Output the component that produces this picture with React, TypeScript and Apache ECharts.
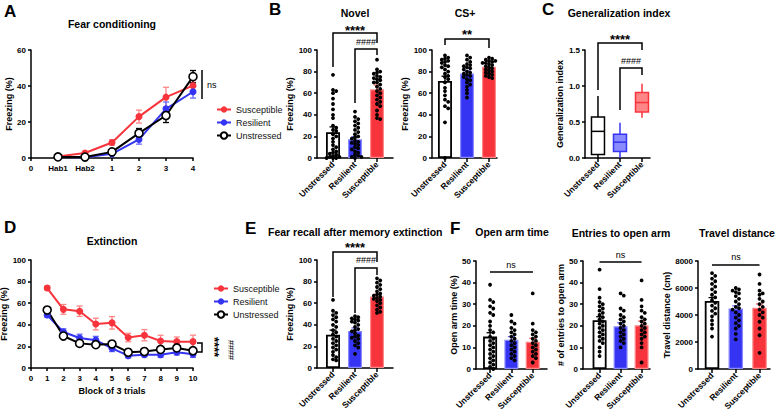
import React, { useEffect, useRef } from 'react';
import * as echarts from 'echarts';

const FONT = '"Liberation Sans", Arial, Helvetica, sans-serif';
const RED = '#f7343c';
const BLUE = '#3434f2';
const RED_LIGHT = '#ff8686';
const BLUE_LIGHT = '#8a8aff';

const groups = ['Unstressed', 'Resilient', 'Susceptible'];
const seriesNames = ['Susceptible', 'Resilient', 'Unstressed'];

// ---- A: Fear conditioning ----
const fcTickLabels = ['0', 'Hab1', 'Hab2', '1', '2', '3', '4'];
const fcSessions = [1, 2, 3, 4, 5, 6];
const fcSus = [0.8, 2.8, 8.6, 23, 33.8, 40.2];
const fcSusSem = [0.4, 0.8, 1.5, 3.6, 5.5, 2.8];
const fcRes = [0.5, 0.4, 2.3, 10.3, 27.3, 36.8];
const fcResSem = [0.3, 0.3, 0.8, 2.6, 3.8, 3.5];
const fcUns = [0.6, 0.5, 3.4, 13.8, 23.6, 45.2];
const fcUnsSem = [0.3, 0.3, 0.9, 2.6, 3.9, 3.4];

// ---- D: Extinction ----
const extBlocks = [1, 2, 3, 4, 5, 6, 7, 8, 9, 10];
const extSus = [74, 54.3, 52.6, 40.7, 41.8, 28.2, 30.4, 25, 24.4, 24.4];
const extSusSem = [2, 4.5, 4.8, 5.4, 5.8, 3.9, 5.2, 5.3, 4.3, 6];
const extRes = [49, 33.3, 27.8, 25.8, 18.2, 11.4, 12.3, 12.3, 14.6, 12.8];
const extResSem = [2, 3, 3.5, 3.5, 3, 2, 2, 2.5, 2.5, 3];
const extUns = [53.7, 29.6, 22.8, 21.6, 22.2, 14.6, 15.3, 17.2, 18.6, 16];
const extUnsSem = [2.5, 2, 2, 2.5, 2, 1.5, 1.5, 2, 2, 2];

// ---- B: Novel ----
const novelMean = [23.8, 17.3, 63.6];
const novelSem = [5, 2.5, 4];
const novelUns = [77, 63, 62, 60, 55, 50, 45, 40, 37, 30, 28, 26, 25, 22, 20, 18, 15, 12, 10, 8, 5, 3, 1, 0, 0, 2, 4, 6, 0, 1];
const novelRes = [43, 38, 36, 34, 32, 30, 28, 26, 24, 22, 20, 19, 18, 16, 15, 14, 13, 12, 10, 9, 8, 6, 5, 3, 2, 1, 0, 1];
const novelSus = [91, 82, 80, 78, 76, 74, 72, 70, 68, 66, 64, 62, 60, 58, 56, 54, 52, 50, 48, 44, 40, 37, 36, 79, 73, 70, 75];

// ---- B: CS+ ----
const csMean = [71.4, 78.3, 84.5];
const csSem = [4.3, 2.4, 5];
const csUns = [95, 93, 91, 90, 88, 86, 84, 82, 80, 78, 76, 75, 73, 70, 65, 62, 58, 54, 52, 48, 46, 33, 0, 92, 89, 85];
const csRes = [95, 93, 91, 89, 87, 85, 84, 82, 80, 79, 78, 77, 76, 75, 73, 72, 70, 68, 66, 63, 60, 56, 86, 83];
const csSus = [93, 92, 91, 90, 89, 88, 87, 86, 85, 84, 83, 82, 81, 80, 79, 78, 77, 76, 75, 74, 90, 88];

// ---- C: Generalization index [min, Q1, median, Q3, max] ----
const giUns = [0.0, 0.05, 0.37, 0.57, 0.86];
const giRes = [0.0, 0.09, 0.22, 0.33, 0.49];
const giSus = [0.56, 0.64, 0.77, 0.91, 1.03];

// ---- E: Fear recall after extinction ----
const recallMean = [30.8, 34.3, 66.1];
const recallSem = [4.3, 2.8, 2.2];
const recallUns = [63, 53, 51, 49, 47, 45, 43, 40, 38, 35, 33, 31, 29, 27, 25, 23, 21, 19, 17, 15, 12, 10, 8, 7];
const recallRes = [48, 47, 46, 45, 44, 43, 42, 40, 38, 36, 35, 34, 32, 30, 29, 28, 27, 25, 23, 21, 19, 13];
const recallSus = [83, 81, 79, 77, 75, 73, 71, 69, 68, 67, 66, 65, 64, 63, 62, 60, 58, 56, 54, 52, 51];

// ---- F: Elevated plus maze ----
const oatMean = [15, 13.5, 12.6];
const oatSem = [1.8, 1.5, 1.6];
const oatUns = [39, 32, 31, 29, 28, 26, 25, 22, 20, 18, 17, 15, 14, 13, 12, 11, 10, 9, 8, 7, 6, 5, 4, 3, 2, 1, 0];
const oatRes = [25, 22, 21, 19, 18, 17, 16, 15, 14, 13, 12, 11, 10, 9, 8, 7, 6, 5, 4];
const oatSus = [35, 21, 18, 17, 16, 15, 14, 13, 12, 11, 10, 9, 8, 7, 6, 5, 3];

const entMean = [22.6, 19.8, 20.2];
const entSem = [1.6, 1.6, 2];
const entUns = [46, 37, 33, 31, 30, 29, 28, 27, 26, 25, 24, 23, 22, 21, 20, 19, 18, 17, 16, 15, 14, 13, 12, 10, 8, 6];
const entRes = [35, 34, 28, 27, 25, 24, 23, 22, 21, 20, 19, 18, 17, 16, 15, 14, 13, 12, 10];
const entSus = [41, 32, 29, 27, 26, 24, 23, 22, 21, 20, 19, 18, 17, 16, 15, 14, 12, 10, 3];

const travMean = [5040, 4480, 4540];
const travSem = [250, 200, 280];
const travUns = [7100, 6900, 6700, 6500, 6300, 6100, 5900, 5700, 5500, 5300, 5100, 4900, 4700, 4500, 4300, 4100, 3900, 3600, 3300, 3000, 2400];
const travRes = [6000, 5900, 5800, 5700, 5600, 5400, 5200, 5000, 4800, 4600, 4500, 4400, 4200, 4000, 3800, 3600, 3400, 3200, 3000, 2600, 2200];
const travSus = [7000, 6300, 5800, 5600, 5500, 5200, 5000, 4800, 4600, 4400, 4200, 4000, 3800, 3500, 3000, 2500, 1200];

// ---------- helpers ----------
const barFill = ['#ffffff', BLUE, RED];
const barBorder = ['#000000', BLUE_LIGHT, RED_LIGHT];
const errColor = ['#000000', '#6a6aff', '#ff6a6a'];

function swarm(values: number[], pxPerY: number, pxPerX: number, d = 3.2) {
  const placed: [number, number][] = [];
  const out: [number, number][] = [];
  const sorted = [...values].sort((a, b) => b - a);
  for (const v of sorted) {
    const py = v * pxPerY;
    let chosen = 0;
    let best = -1;
    for (let k = 0; k < 5; k++) {
      const cand = k === 0 ? 0 : (k % 2 === 1 ? 1 : -1) * Math.ceil(k / 2) * d;
      let minD = Infinity;
      for (const [px, qy] of placed) minD = Math.min(minD, Math.hypot(px - cand, qy - py));
      if (minD >= d * 0.9) { chosen = cand; best = minD; break; }
      if (minD > best) { best = minD; chosen = cand; }
    }
    placed.push([chosen, py]);
    out.push([chosen / pxPerX, v]);
  }
  return out;
}

function errSeries(gi: number, data: number[][], colors: string[], cap: number, both: boolean, z: number) {
  return {
    type: 'custom', xAxisIndex: gi, yAxisIndex: gi, z, silent: true, data,
    renderItem: (_p: any, api: any) => {
      const x = api.value(0), lo = api.value(1), hi = api.value(2), ci = api.value(3);
      const c = colors[ci];
      const a = api.coord([x, lo]);
      const b = api.coord([x, hi]);
      const style = { stroke: c, lineWidth: 1.3, fill: null };
      const children: any[] = [
        { type: 'line', shape: { x1: a[0], y1: a[1], x2: b[0], y2: b[1] }, style },
        { type: 'line', shape: { x1: b[0] - cap, y1: b[1], x2: b[0] + cap, y2: b[1] }, style },
      ];
      if (both) children.push({ type: 'line', shape: { x1: a[0] - cap, y1: a[1], x2: a[0] + cap, y2: a[1] }, style });
      return { type: 'group', children };
    },
  };
}

function barPanel(gi: number, means: number[], sems: number[], dots: number[][], pxPerY: number, pxPerX: number, bw: number) {
  const scatterData: number[][] = [];
  dots.forEach((vals, i) => {
    swarm(vals, pxPerY, pxPerX).forEach(([dx, v]) => scatterData.push([i + dx, v]));
  });
  return [
    {
      type: 'bar', xAxisIndex: gi, yAxisIndex: gi, barWidth: bw, silent: true, z: 2,
      data: means.map((m, i) => ({
        value: [i, m],
        itemStyle: { color: barFill[i], borderColor: barBorder[i], borderWidth: i === 0 ? 1.8 : 1.2, opacity: 1 },
      })),
    },
    errSeries(gi, means.map((m, i) => [i, m, m + sems[i], i]), errColor, 3.5, false, 3),
    {
      type: 'scatter', xAxisIndex: gi, yAxisIndex: gi, symbol: 'circle', symbolSize: 3.8, silent: true, z: 4,
      itemStyle: { color: '#000', opacity: 1, borderWidth: 0 }, data: scatterData,
    },
  ];
}

const axisLineStyle = { color: '#000', width: 1.5 };
const tickFont = { fontSize: 8, fontWeight: 'bold' as const, color: '#000', fontFamily: FONT };

function catX(gi: number, min: number, max: number) {
  return {
    type: 'value', gridIndex: gi, min, max,
    axisLine: { show: true, onZero: false, lineStyle: axisLineStyle },
    axisTick: { show: true, customValues: [0, 1, 2], length: 4, lineStyle: axisLineStyle },
    axisLabel: { show: true, customValues: [0, 1, 2], formatter: (v: number) => groups[Math.round(v)] ?? '', rotate: 45, margin: 5, ...tickFont, fontSize: 8.5 },
    splitLine: { show: false },
  };
}

function valY(gi: number, max: number, interval: number, name: string, nameGap: number, fmt?: (v: number) => string) {
  return {
    type: 'value', gridIndex: gi, min: 0, max, interval,
    axisLine: { show: true, onZero: false, lineStyle: axisLineStyle },
    axisTick: { show: true, length: 3, lineStyle: axisLineStyle },
    axisLabel: { margin: 5, ...tickFont, formatter: fmt ? fmt : (v: number) => String(v) },
    splitLine: { show: false },
    name, nameLocation: 'middle', nameGap,
    nameTextStyle: { fontSize: 9, fontWeight: 'bold', color: '#000', fontFamily: FONT },
  };
}

function lineSeries(gi: number, xs: number[], ys: number[], name: string, color: string, open: boolean) {
  return {
    type: 'line', name, xAxisIndex: gi, yAxisIndex: gi, silent: true, z: 5,
    data: xs.map((x, i) => [x, ys[i]]),
    symbol: 'circle', symbolSize: open ? 8 : 7,
    lineStyle: { color, width: 2 },
    itemStyle: open ? { color: '#fff', borderColor: color, borderWidth: 1.6, opacity: 1 } : { color, opacity: 1 },
  };
}

function txt(text: string, x: number, y: number, size: number, weight: string, align = 'center', rotation = 0) {
  return {
    type: 'text', x, y, rotation, silent: true, z: 10,
    style: { text, fill: '#000', fontSize: size, fontWeight: weight, fontFamily: FONT, align, verticalAlign: 'middle' },
  };
}

function poly(points: number[][]) {
  return { type: 'polyline', silent: true, z: 10, shape: { points }, style: { stroke: '#000', lineWidth: 1.5, fill: null } };
}

export default function App() {
  const ref = useRef<HTMLDivElement>(null);
  useEffect(() => {
    if (!ref.current) return;
    const chart = echarts.init(ref.current, undefined, { renderer: 'svg' });

    const grids = [
      { left: 31, top: 50, width: 162, height: 108 },
      { left: 317, top: 50, width: 76, height: 108 },
      { left: 432, top: 50, width: 65, height: 108 },
      { left: 585, top: 50, width: 65, height: 108 },
      { left: 31, top: 260, width: 162, height: 108 },
      { left: 317, top: 260, width: 76, height: 108 },
      { left: 476, top: 261, width: 71, height: 108 },
      { left: 583, top: 261, width: 67, height: 108 },
      { left: 698, top: 261, width: 72, height: 108 },
    ].map((g) => ({ ...g, outerBoundsMode: 'none', containLabel: false, show: false }));

    const xAxis: any[] = [
      {
        type: 'value', gridIndex: 0, min: 0, max: 6, interval: 1,
        axisLine: { show: true, onZero: false, lineStyle: axisLineStyle },
        axisTick: { show: true, length: 3, lineStyle: axisLineStyle },
        axisLabel: { margin: 6, formatter: (v: number) => fcTickLabels[Math.round(v)] ?? '', ...tickFont },
        splitLine: { show: false },
      },
      catX(1, -0.727, 2.727),
      catX(2, -0.59, 2.364),
      catX(3, -0.59, 2.364),
      {
        type: 'value', gridIndex: 4, min: 0, max: 10, interval: 1,
        axisLine: { show: true, onZero: false, lineStyle: axisLineStyle },
        axisTick: { show: true, length: 3, lineStyle: axisLineStyle },
        axisLabel: { margin: 6, ...tickFont },
        splitLine: { show: false },
        name: 'Block of 3 trials', nameLocation: 'middle', nameGap: 18,
        nameTextStyle: { fontSize: 9, fontWeight: 'bold', color: '#000', fontFamily: FONT },
      },
      catX(5, -0.727, 2.727),
      catX(6, -0.66, 2.67),
      catX(7, -0.79, 2.4),
      catX(8, -0.59, 2.44),
    ];

    const yAxis: any[] = [
      valY(0, 60, 20, 'Freezing (%)', 15),
      valY(1, 100, 20, 'Freezing (%)', 19),
      valY(2, 100, 20, 'Freezing (%)', 23),
      valY(3, 1.5, 0.5, 'Generalization index', 21, (v) => v.toFixed(1)),
      valY(4, 100, 20, 'Freezing (%)', 20),
      valY(5, 100, 20, 'Freezing (%)', 19),
      valY(6, 50, 10, 'Open arm time (%)', 18),
      valY(7, 50, 10, '# of entries to open arm', 16),
      valY(8, 8000, 2000, 'Travel distance (cm)', 23),
    ];

    const series: any[] = [];
    // A
    series.push(errSeries(0, fcSessions.map((x, i) => [x, fcSus[i] - fcSusSem[i], fcSus[i] + fcSusSem[i], 0]), [RED_LIGHT], 3, true, 3));
    series.push(errSeries(0, fcSessions.map((x, i) => [x, fcRes[i] - fcResSem[i], fcRes[i] + fcResSem[i], 0]), ['#6a6aff'], 3, true, 3));
    series.push(errSeries(0, fcSessions.map((x, i) => [x, fcUns[i] - fcUnsSem[i], fcUns[i] + fcUnsSem[i], 0]), ['#000'], 3, true, 3));
    series.push(lineSeries(0, fcSessions, fcSus, 'Susceptible', RED, false));
    series.push(lineSeries(0, fcSessions, fcRes, 'Resilient', BLUE, false));
    series.push(lineSeries(0, fcSessions, fcUns, 'Unstressed', '#000', true));
    // D
    series.push(errSeries(4, extBlocks.map((x, i) => [x, extSus[i] - extSusSem[i], extSus[i] + extSusSem[i], 0]), [RED_LIGHT], 3, true, 3));
    series.push(errSeries(4, extBlocks.map((x, i) => [x, extRes[i] - extResSem[i], extRes[i] + extResSem[i], 0]), ['#6a6aff'], 3, true, 3));
    series.push(errSeries(4, extBlocks.map((x, i) => [x, extUns[i] - extUnsSem[i], extUns[i] + extUnsSem[i], 0]), ['#000'], 3, true, 3));
    series.push(lineSeries(4, extBlocks, extSus, 'Susceptible', RED, false));
    series.push(lineSeries(4, extBlocks, extRes, 'Resilient', BLUE, false));
    series.push(lineSeries(4, extBlocks, extUns, 'Unstressed', '#000', true));
    // Bars
    series.push(...barPanel(1, novelMean, novelSem, [novelUns, novelRes, novelSus], 1.08, 22, 14));
    series.push(...barPanel(2, csMean, csSem, [csUns, csRes, csSus], 1.08, 22, 14));
    series.push(...barPanel(5, recallMean, recallSem, [recallUns, recallRes, recallSus], 1.08, 22, 14));
    series.push(...barPanel(6, oatMean, oatSem, [oatUns, oatRes, oatSus], 2.16, 21.3, 14));
    series.push(...barPanel(7, entMean, entSem, [entUns, entRes, entSus], 2.16, 21, 14));
    series.push(...barPanel(8, travMean, travSem, [travUns, travRes, travSus], 0.0135, 23.76, 14.5));
    // C boxes
    const boxColors = [
      { stroke: '#000', fill: 'rgba(255,255,255,0)' },
      { stroke: BLUE, fill: BLUE_LIGHT },
      { stroke: RED, fill: RED_LIGHT },
    ];
    series.push({
      type: 'custom', xAxisIndex: 3, yAxisIndex: 3, silent: true, z: 3,
      data: [giUns, giRes, giSus].map((b, i) => [i, ...b]),
      renderItem: (_p: any, api: any) => {
        const i = api.value(0);
        const [mn, q1, md, q3, mx] = [1, 2, 3, 4, 5].map((k) => api.coord([i, api.value(k)])[1]);
        const cx = api.coord([i, 0])[0];
        const hw = 6.5;
        const c = boxColors[i];
        const st = { stroke: c.stroke, lineWidth: 1.5, fill: null };
        return {
          type: 'group', children: [
            { type: 'line', shape: { x1: cx, y1: q3, x2: cx, y2: mx }, style: st },
            { type: 'line', shape: { x1: cx, y1: q1, x2: cx, y2: mn }, style: st },
            { type: 'rect', shape: { x: cx - hw, y: q3, width: hw * 2, height: q1 - q3 }, style: { stroke: c.stroke, lineWidth: 1.5, fill: c.fill } },
            { type: 'line', shape: { x1: cx - hw, y1: md, x2: cx + hw, y2: md }, style: st },
          ],
        };
      },
    });

    const legendBase = {
      data: seriesNames, orient: 'vertical', itemWidth: 14, itemHeight: 8, itemGap: 4, selectedMode: false,
      textStyle: { fontSize: 9, fontFamily: FONT, color: '#111' },
    };

    const graphic: any[] = [
      // panel letters
      txt('A', 4, 11, 17, 'bold', 'left'),
      txt('B', 269, 9, 17, 'bold', 'left'),
      txt('C', 542, 9, 17, 'bold', 'left'),
      txt('D', 4, 227, 17, 'bold', 'left'),
      txt('E', 245, 228, 17, 'bold', 'left'),
      txt('F', 450, 228, 17, 'bold', 'left'),
      // titles
      txt('Fear conditioning', 112, 24, 10.5, 'bold'),
      txt('Novel', 355, 13, 10.5, 'bold'),
      txt('CS+', 465, 13, 10.5, 'bold'),
      txt('Generalization index', 619, 13, 10.5, 'bold'),
      txt('Extinction', 112, 241, 10.5, 'bold'),
      txt('Fear recall after memory extinction', 268, 232, 10.5, 'bold', 'left'),
      txt('Open arm time', 512, 232, 10.5, 'bold'),
      txt('Entries to open arm', 621, 233, 10.5, 'bold'),
      txt('Travel distance', 737, 233, 10.5, 'bold'),
      // A ns
      poly([[202, 70], [202, 99]]),
      txt('ns', 207, 85, 9, 'normal', 'left'),
      // Novel
      poly([[333, 67], [333, 33], [377, 33], [377, 43]]),
      txt('****', 355, 30, 13, 'bold'),
      poly([[355, 103], [355, 49], [377, 49], [377, 55]]),
      txt('####', 366, 42, 9, 'normal'),
      // CS+
      poly([[445, 45], [445, 39], [489, 39], [489, 48]]),
      txt('**', 467, 34, 13, 'bold'),
      // C
      poly([[598, 90], [598, 43], [642, 43], [642, 50]]),
      txt('****', 620, 39, 13, 'bold'),
      poly([[620, 110], [620, 68], [642, 68], [642, 75]]),
      txt('####', 631, 61, 9, 'normal'),
      // E
      poly([[333, 297], [333, 252], [377, 252], [377, 262]]),
      txt('****', 355, 247, 13, 'bold'),
      poly([[355, 313], [355, 268], [377, 268], [377, 275]]),
      txt('####', 366, 260, 9, 'normal'),
      // F
      poly([[490, 272], [533, 272]]),
      txt('ns', 511, 265, 9, 'normal'),
      poly([[599.5, 262], [641.5, 262]]),
      txt('ns', 620.5, 255, 9, 'normal'),
      poly([[712, 265], [759.5, 265]]),
      txt('ns', 736, 257, 9, 'normal'),
      // D bracket
      poly([[197, 343], [202, 343], [202, 352], [197, 352]]),
      txt('****', 214, 347, 13, 'bold', 'center', -Math.PI / 2),
      txt('####', 231, 350, 9, 'normal', 'center', -Math.PI / 2),
    ];

    chart.setOption({
      animation: false,
      backgroundColor: '#ffffff',
      textStyle: { fontFamily: FONT },
      grid: grids,
      xAxis,
      yAxis,
      legend: [
        { ...legendBase, left: 211, top: 100 },
        { ...legendBase, left: 208, top: 279 },
      ],
      series,
      graphic,
    });
    return () => chart.dispose();
  }, []);
  return <div ref={ref} style={{ position: 'absolute', left: 0, top: 0, width: 776, height: 412 }} />;
}
